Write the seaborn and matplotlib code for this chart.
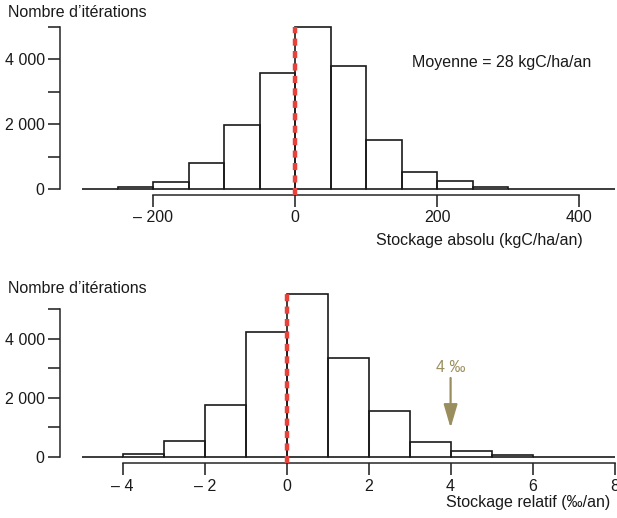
import pandas as pd
import matplotlib
matplotlib.use("Agg")
import matplotlib.pyplot as plt
import seaborn as sns

# Histogramme 1 : stockage absolu (kgC/ha/an), classes de 50
abs_edges = [-300, -250, -200, -150, -100, -50, 0, 50, 100, 150, 200, 250, 300, 350, 400, 450]
abs_counts = [10, 50, 215, 795, 1985, 3580, 5000, 3800, 1500, 515, 240, 60, 15, 5, 0]
abs_ticks = [-200, 0, 200, 400]
abs_ticklabels = ["\u2013 200", "0", "200", "400"]

# Histogramme 2 : stockage relatif (‰/an), classes de 1
rel_edges = [-5, -4, -3, -2, -1, 0, 1, 2, 3, 4, 5, 6, 7, 8]
rel_counts = [0, 100, 530, 1745, 4210, 5500, 3345, 1545, 520, 190, 55, 10, 0]
rel_ticks = [-4, -2, 0, 2, 4, 6, 8]
rel_ticklabels = ["\u2013 4", "\u2013 2", "0", "2", "4", "6", "8"]

y_ticks = [0, 1000, 2000, 3000, 4000, 5000]
y_ticklabels = ["0", "", "2 000", "", "4 000", ""]

RED = "#e8423a"
OLIVE = "#9b8e5e"
INK = "#1a1a1a"
FS = 11.5

sns.set_theme(style="ticks")
plt.rcParams["font.family"] = ["Liberation Sans", "DejaVu Sans"]
plt.rcParams["axes.linewidth"] = 1.1

W, H = 617, 518
fig = plt.figure(figsize=(W / 100, H / 100), dpi=100)


def px_axes(left, top, right, bottom):
    return fig.add_axes([left / W, 1 - bottom / H, (right - left) / W, (bottom - top) / H])


def draw_hist(ax, edges, counts, xlim, ylim, xticks, xticklabels, red_top):
    centers = [(a + b) / 2 for a, b in zip(edges[:-1], edges[1:])]
    df = pd.DataFrame({"x": centers, "n": counts})
    sns.histplot(data=df, x="x", weights="n", bins=list(edges), fill=False, element="bars",
                 color=INK, linewidth=1.2, ax=ax)
    ax.set_xlim(*xlim)
    ax.set_ylim(*ylim)
    ax.plot([0, 0], [ylim[0], red_top], color=RED, lw=3.2, dashes=(1.6, 1.2),
            clip_on=False, zorder=5)
    ax.set_yticks(y_ticks)
    ax.set_yticklabels(y_ticklabels)
    ax.set_xticks(xticks)
    ax.set_xticklabels(xticklabels)
    ax.spines["top"].set_visible(False)
    ax.spines["right"].set_visible(False)
    ax.spines["left"].set_bounds(0, 5000)
    ax.spines["bottom"].set_bounds(xticks[0], xticks[-1])
    ax.tick_params(axis="both", length=8.5, width=1.1, labelsize=FS, color=INK,
                   labelcolor=INK, pad=2.5)
    ax.set_xlabel("")
    ax.set_ylabel("")


ax1 = px_axes(60, 25, 617, 195)
draw_hist(ax1, abs_edges, abs_counts, (-331, 453.5), (-185, 5062),
          abs_ticks, abs_ticklabels, 5000)
ax1.text(165, 3900, "Moyenne = 28 kgC/ha/an", ha="left", va="center", fontsize=FS, color=INK)

ax2 = px_axes(60, 290, 617, 463.3)
draw_hist(ax2, rel_edges, rel_counts, (-5.53, 8.06), (-213, 5642),
          rel_ticks, rel_ticklabels, 5500)
ax2.annotate("", xy=(4, 980), xytext=(4, 2670),
             arrowprops=dict(arrowstyle="-|>,head_length=1.3,head_width=0.38", color=OLIVE,
                             lw=1.6, mutation_scale=11, shrinkA=0, shrinkB=0))
ax2.text(4, 3040, "4 \u2030", ha="center", va="center", fontsize=FS, color=OLIVE)

fig.text(8 / W, 1 - 5 / H, "Nombre d\u2019it\u00e9rations", ha="left", va="top", fontsize=FS, color=INK)
fig.text(8 / W, 1 - 281 / H, "Nombre d\u2019it\u00e9rations", ha="left", va="top", fontsize=FS, color=INK)
fig.text(583 / W, 1 - 233 / H, "Stockage absolu (kgC/ha/an)", ha="right", va="top",
         fontsize=FS, color=INK)
fig.text(610 / W, 1 - 495 / H, "Stockage relatif (\u2030/an)", ha="right", va="top",
         fontsize=FS, color=INK)

fig.savefig("out.png", dpi=100)
